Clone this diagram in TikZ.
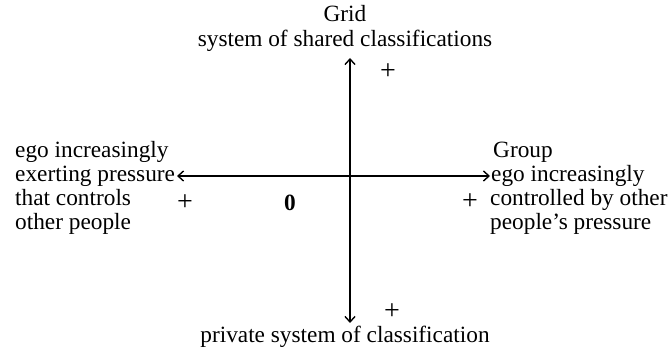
\documentclass[tikz,border=0pt]{standalone}
\usepackage{fontspec}
\setmainfont{Liberation Serif}
\usetikzlibrary{arrows.meta}
\tikzset{
  lbl/.style={inner sep=0pt, font=\fontsize{23.3}{24}\selectfont},
  sgn/.style={inner sep=0pt, font=\fontsize{28}{28}\selectfont},
  axis/.style={line width=1.4pt, {Straight Barb[length=5.5pt,width=10pt]}-{Straight Barb[length=5.5pt,width=10pt]}},
}
\begin{document}
\begin{tikzpicture}[x=1pt,y=1pt]
    \useasboundingbox (0,0) rectangle (671,353);
    % axis ends
    \coordinate (top) at (350,295);
    \coordinate (bot) at (350,30);
    \coordinate (lft) at (177,177);
    \coordinate (rgt) at (490,177);
    \draw[axis] (top) -- (bot);
    \draw[axis] (lft) -- (rgt);
    % grid end
    \node[lbl, anchor=base] (grid) at (345,331) {Grid};
    \node[lbl, anchor=base] (shared) at (345,306) {system of shared classifications};
    \node[sgn] (plustop) at (388,281) {+};
    % left end
    \node[lbl, anchor=base west] (l1) at (15,195) {ego increasingly};
    \node[lbl, anchor=base west] (l2) at (15,171) {exerting pressure};
    \node[lbl, anchor=base west] (l3) at (15,147) {that controls};
    \node[lbl, anchor=base west] (l4) at (15,123) {other people};
    \node[sgn] (plusleft) at (185,150) {+};
    \node[lbl, font=\fontsize{23.3}{24}\selectfont\bfseries] (zero) at (290,150) {0};
    % group end
    \node[lbl, anchor=base west] (r1) at (493,195) {Group};
    \node[lbl, anchor=base west] (r2) at (491,171) {ego increasingly};
    \node[lbl, anchor=base west] (r3) at (490,147) {controlled by other};
    \node[lbl, anchor=base west] (r4) at (490,123) {people's pressure};
    \node[sgn] (plusright) at (470,151) {+};
    % private end
    \node[sgn] (plusbot) at (392,41) {+};
    \node[lbl, anchor=base] (private) at (345,11) {private system of classification};
\end{tikzpicture}
\end{document}
